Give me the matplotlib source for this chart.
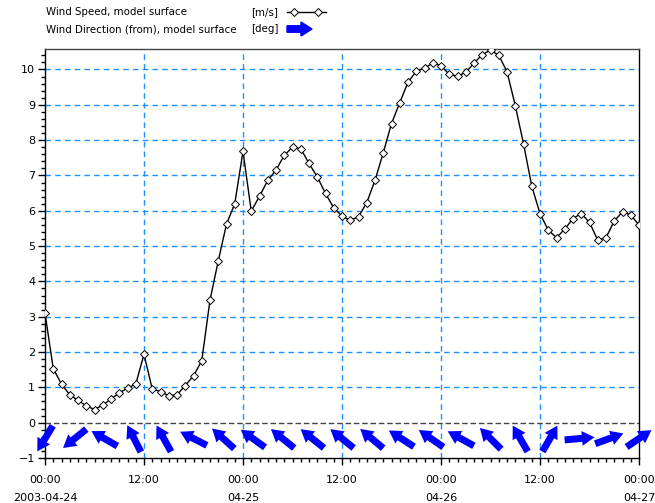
import matplotlib
matplotlib.use("Agg")
import matplotlib.pyplot as plt
import matplotlib.patches as mpatches
from matplotlib.lines import Line2D
from matplotlib.ticker import MultipleLocator
import numpy as np

# hours since 2003-04-24 00:00
hours = list(range(73))
speed = [3.10, 1.53, 1.09, 0.79, 0.63, 0.48, 0.37, 0.50, 0.67, 0.84,
         0.98, 1.09, 1.94, 0.95, 0.88, 0.76, 0.79, 1.05, 1.33, 1.75,
         3.47, 4.58, 5.62, 6.20, 7.68, 5.99, 6.41, 6.86, 7.15, 7.57,
         7.80, 7.76, 7.34, 6.96, 6.49, 6.08, 5.85, 5.73, 5.83, 6.23,
         6.86, 7.64, 8.47, 9.06, 9.64, 9.95, 10.04, 10.18, 10.11, 9.86,
         9.81, 9.92, 10.18, 10.42, 10.55, 10.40, 9.94, 8.98, 7.90, 6.70,
         5.92, 5.45, 5.24, 5.48, 5.78, 5.92, 5.67, 5.17, 5.24, 5.71,
         5.97, 5.89, 5.59]

# wind direction (from), degrees
dir_hours = [0, 3.6, 7.2, 10.8, 14.4, 18, 21.6, 25.2, 28.8, 32.4, 36,
             39.6, 43.2, 46.8, 50.4, 54, 57.6, 61.2, 64.8, 68.4, 72]
dir_from = [31, 51, 120, 153, 151, 117, 132, 126, 129, 129, 129,
            130, 123, 125, 119, 135, 150, 210, 265, 250, 236]

tick_hours = [0, 12, 24, 36, 48, 60, 72]
tick_labels = ["00:00\n2003-04-24", "12:00", "00:00\n04-25", "12:00",
               "00:00\n04-26", "12:00", "00:00\n04-27"]

plt.rcParams['font.family'] = 'DejaVu Sans'
plt.rcParams['font.size'] = 8

fig = plt.figure(figsize=(6.55, 5.03), dpi=100)
ax = fig.add_axes([45/655, 1-458/503, 594/655, 409/503])

gridblue = '#1e8fff'
for yv in range(1, 11):
    ax.axhline(yv, color=gridblue, lw=1, ls=(0, (4, 3)), zorder=1)
for xv in tick_hours[1:-1]:
    ax.axvline(xv, color=gridblue, lw=1, ls=(0, (4, 3)), zorder=1)
ax.axhline(0, color='#444444', lw=1, ls=(0, (4, 2)), zorder=1)

ax.plot(hours, speed, color='black', lw=1, marker='D', ms=4,
        mfc='white', mec='black', mew=0.7, zorder=3)

ang = np.radians(270 - np.array(dir_from))
ax.quiver(dir_hours, [-0.45]*len(dir_hours), np.cos(ang), np.sin(ang),
          color='blue', units='dots', width=7, headwidth=2.1,
          headlength=1.8, headaxislength=1.8, scale_units='dots',
          scale=1/30, pivot='middle', zorder=4, clip_on=False)

ax.set_xlim(0, 72)
ax.set_ylim(-1, 10.58)
ax.set_xticks(tick_hours)
ax.set_xticklabels(tick_labels, linespacing=2.0)
ax.xaxis.set_minor_locator(MultipleLocator(1))
ax.set_yticks(range(-1, 11))
ax.yaxis.set_minor_locator(MultipleLocator(0.2))
ax.tick_params(which='major', length=5, width=1, direction='out', pad=2)
ax.tick_params(axis='x', which='major', pad=7)
ax.tick_params(which='minor', length=3, width=1, direction='out')
for s in ax.spines.values():
    s.set_linewidth(1)
ax.spines['top'].set_color('#444444')

# legend above the axes
fs = 7.4
fig.text(46/655, 1-12/503, "Wind Speed, model surface", va='center', ha='left', fontsize=fs)
fig.text(46/655, 1-29/503, "Wind Direction (from), model surface", va='center', ha='left', fontsize=fs)
fig.text(251/655, 1-12/503, "[m/s]", va='center', ha='left', fontsize=fs)
fig.text(251/655, 1-29/503, "[deg]", va='center', ha='left', fontsize=fs)
fig.add_artist(Line2D([287/655, 326/655], [1-12/503, 1-12/503],
                      transform=fig.transFigure, color='black', lw=1))
fig.add_artist(Line2D([294/655, 318/655], [1-12/503, 1-12/503],
                      transform=fig.transFigure, color='black', lw=0,
                      marker='D', ms=4, mfc='white', mec='black', mew=0.7))
fig.add_artist(mpatches.FancyArrow(2.87, (503-29)/100, 0.14, 0, width=0.065,
                                   head_width=0.14, head_length=0.11,
                                   length_includes_head=False, color='blue',
                                   transform=fig.dpi_scale_trans))

fig.savefig('out.png', dpi=100)
